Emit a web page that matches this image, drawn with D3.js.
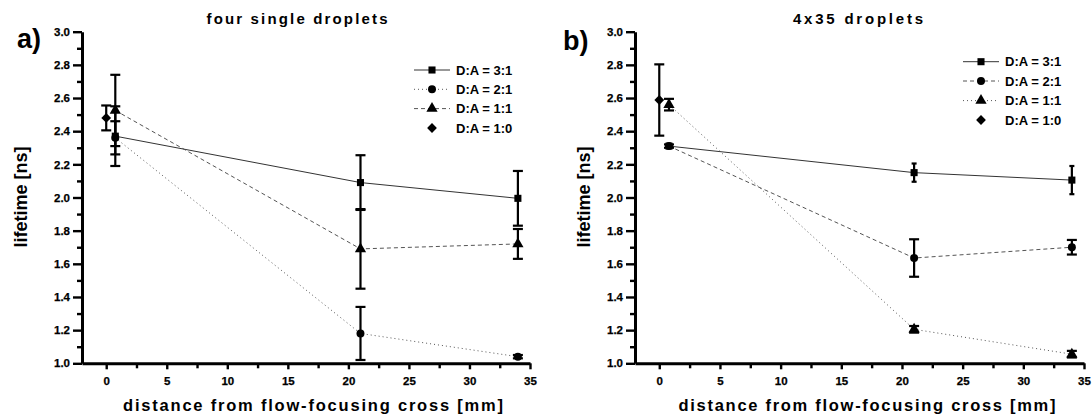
<!DOCTYPE html>
<html>
<head>
<meta charset="utf-8">
<script src="https://cdn.jsdelivr.net/npm/d3@7"></script>
<style>
  body { margin: 0; background: #fff; }
  svg { display: block; }
  .tick text { font-family: "Liberation Sans", Arial, sans-serif; font-weight: bold; font-size: 11.5px; fill: #000; stroke: #000; stroke-width: 0.25px; }
</style>
</head>
<body>
<svg id="chart" width="1092" height="416"></svg>
<script>
// ---------- data ----------
const xTickValues = [0, 5, 10, 15, 20, 25, 30, 35];
const yTickValues = [1.0, 1.2, 1.4, 1.6, 1.8, 2.0, 2.2, 2.4, 2.6, 2.8, 3.0];
const seriesNames = ["D:A = 3:1", "D:A = 2:1", "D:A = 1:1", "D:A = 1:0"];
const panelLetters = ["a)", "b)"];
const panelTitles = ["four single droplets", "4x35 droplets"];
const xLabel = "distance from flow-focusing cross [mm]";
const yLabel = "lifetime [ns]";

// panel a) four single droplets
const a31_x = [0.75, 21, 34];  const a31_y = [2.37, 2.09, 1.995]; const a31_e = [0.18, 0.165, 0.165];
const a21_x = [0.75, 21, 34];  const a21_y = [2.36, 1.18, 1.04];  const a21_e = [0.10, 0.16, 0.01];
const a11_x = [0.75, 21, 34];  const a11_y = [2.525, 1.69, 1.72]; const a11_e = [0.215, 0.24, 0.09];
const a10_x = [0];             const a10_y = [2.48];              const a10_e = [0.075];

// panel b) 4x35 droplets
const b31_x = [0.8, 21, 34];   const b31_y = [2.31, 2.15, 2.105]; const b31_e = [0.01, 0.055, 0.085];
const b21_x = [0.8, 21, 34];   const b21_y = [2.31, 1.635, 1.70]; const b21_e = [0.01, 0.113, 0.044];
const b11_x = [0.8, 21, 34];   const b11_y = [2.56, 1.205, 1.055];const b11_e = [0.035, 0.02, 0.02];
const b10_x = [0];             const b10_y = [2.588];             const b10_e = [0.215];

// ---------- drawing ----------
const svg = d3.select("#chart");
const FONT = "'Liberation Sans', Arial, sans-serif";

const zipS = (xs, ys, es) => xs.map((x, i) => ({x: x, y: ys[i], e: es[i]}));

const panels = [
  {
    x0: 82, x1: 530, letter: panelLetters[0], title: panelTitles[0],
    letterX: 17, letterY: 48, titleX: 297, titleW: 181, ylabX: 21, xlabX: 313, xlabW: 380,
    legX: 414, legY: [70, 89.3, 108.6, 128],
    series: [
      {name: seriesNames[0], data: zipS(a31_x, a31_y, a31_e), dash: null, sym: "square", cap: 10},
      {name: seriesNames[1], data: zipS(a21_x, a21_y, a21_e), dash: "1,3", sym: "circle", cap: 10},
      {name: seriesNames[2], data: zipS(a11_x, a11_y, a11_e), dash: "4,3", sym: "triangle", cap: 10},
      {name: seriesNames[3], data: zipS(a10_x, a10_y, a10_e), dash: "none", sym: "diamond", cap: 10}
    ]
  },
  {
    x0: 635, x1: 1084, letter: panelLetters[1], title: panelTitles[1],
    letterX: 563, letterY: 50, titleX: 858, titleW: 130, ylabX: 584, xlabX: 867, xlabW: 377,
    legX: 963, legY: [61.7, 81, 100.6, 120],
    series: [
      {name: seriesNames[0], data: zipS(b31_x, b31_y, b31_e), dash: null, sym: "square", cap: 5},
      {name: seriesNames[1], data: zipS(b21_x, b21_y, b21_e), dash: "4,3", sym: "circle", cap: 10},
      {name: seriesNames[2], data: zipS(b11_x, b11_y, b11_e), dash: "1,3", sym: "triangle", cap: 10},
      {name: seriesNames[3], data: zipS(b10_x, b10_y, b10_e), dash: "none", sym: "diamond", cap: 10}
    ]
  }
];

const symbolDefs = {
  square:   {type: d3.symbolSquare, size: 50, rot: 0},
  circle:   {type: d3.symbolCircle, size: 50, rot: 0},
  triangle: {type: d3.symbolTriangle, size: 55, rot: 0},
  diamond:  {type: d3.symbolSquare, size: 48, rot: 45}
};
const symPath = k => d3.symbol().type(symbolDefs[k].type).size(symbolDefs[k].size)();
const symRot = k => symbolDefs[k].rot ? ` rotate(${symbolDefs[k].rot})` : "";

panels.forEach(p => {
  const x = d3.scaleLinear().domain([-2, 35]).range([p.x0, p.x1]);
  const y = d3.scaleLinear().domain([1.0, 3.0]).range([363.3, 31.7]);
  const g = svg.append("g");

  // minor ticks
  const yMinor = d3.range(1.1, 3.0, 0.2);
  const xMinor = [2.5, 7.5, 12.5, 17.5, 22.5, 27.5, 32.5];
  g.append("g").attr("transform", `translate(${p.x0},0)`)
    .call(d3.axisLeft(y).tickValues(yMinor).tickSize(5).tickSizeOuter(0).tickFormat(""))
    .call(a => a.select(".domain").remove())
    .selectAll("line").attr("stroke-width", 2.4).attr("stroke", "#000");
  g.append("g").attr("transform", "translate(0,363.3)")
    .call(d3.axisBottom(x).tickValues(xMinor).tickSize(5).tickSizeOuter(0).tickFormat(""))
    .call(a => a.select(".domain").remove())
    .selectAll("line").attr("stroke-width", 2.4).attr("stroke", "#000");

  // major axes
  const yAx = g.append("g").attr("transform", `translate(${p.x0},0)`)
    .call(d3.axisLeft(y).tickValues(yTickValues).tickSize(9).tickSizeOuter(0).tickPadding(3).tickFormat(d3.format(".1f")));
  yAx.select(".domain").attr("stroke-width", 3).attr("stroke", "#000");
  yAx.selectAll(".tick line").attr("stroke-width", 2.4).attr("stroke", "#000");

  const xAx = g.append("g").attr("transform", "translate(0,363.3)")
    .call(d3.axisBottom(x).tickValues(xTickValues).tickSize(6).tickSizeOuter(0).tickPadding(8));
  xAx.select(".domain").attr("stroke-width", 3).attr("stroke", "#000");
  xAx.selectAll(".tick line").attr("stroke-width", 2.4).attr("stroke", "#000");

  // lines
  const line = d3.line().x(d => x(d.x)).y(d => y(d.y));
  p.series.forEach(s => {
    if (s.dash === "none") return;
    g.append("path").datum(s.data)
      .attr("d", line).attr("fill", "none")
      .attr("stroke", s.dash ? "#555" : "#333")
      .attr("stroke-width", 1)
      .attr("stroke-dasharray", s.dash);
  });

  // error bars
  p.series.forEach(s => {
    const eb = g.append("g").attr("stroke", "#000").attr("stroke-width", 2.2);
    s.data.forEach(d => {
      const cx = x(d.x), yt = y(d.y + d.e), yb = y(d.y - d.e);
      eb.append("line").attr("x1", cx).attr("x2", cx).attr("y1", yt).attr("y2", yb);
      eb.append("line").attr("x1", cx - s.cap / 2).attr("x2", cx + s.cap / 2).attr("y1", yt).attr("y2", yt);
      eb.append("line").attr("x1", cx - s.cap / 2).attr("x2", cx + s.cap / 2).attr("y1", yb).attr("y2", yb);
    });
  });

  // symbols
  p.series.forEach(s => {
    g.selectAll(null).data(s.data).enter().append("path")
      .attr("d", symPath(s.sym))
      .attr("transform", d => `translate(${x(d.x)},${y(d.y)})` + symRot(s.sym))
      .attr("fill", "#000");
  });

  // legend
  p.series.forEach((s, i) => {
    const ly = p.legY[i];
    if (s.dash !== "none") {
      g.append("line").attr("x1", p.legX).attr("x2", p.legX + 36)
        .attr("y1", ly).attr("y2", ly)
        .attr("stroke", s.dash ? "#555" : "#333").attr("stroke-width", 1)
        .attr("stroke-dasharray", s.dash);
    }
    g.append("path").attr("d", symPath(s.sym))
      .attr("transform", `translate(${p.legX + 18},${ly})` + symRot(s.sym)).attr("fill", "#000");
    g.append("text").attr("x", p.legX + 42).attr("y", ly + 4.5)
      .attr("font-family", FONT).attr("font-weight", "bold").attr("font-size", 13)
      .text(s.name);
  });

  // titles and labels
  g.append("text").attr("x", p.letterX).attr("y", p.letterY)
    .attr("font-family", FONT).attr("font-weight", "bold").attr("font-size", 27)
    .text(p.letter);
  g.append("text").attr("x", p.titleX).attr("y", 24).attr("text-anchor", "middle")
    .attr("font-family", FONT).attr("font-weight", "bold").attr("font-size", 15)
    .attr("textLength", p.titleW).attr("lengthAdjust", "spacing")
    .text(p.title);
  g.append("text").attr("x", p.xlabX).attr("y", 411).attr("text-anchor", "middle")
    .attr("font-family", FONT).attr("font-weight", "bold").attr("font-size", 16.5)
    .attr("textLength", p.xlabW).attr("lengthAdjust", "spacing")
    .text(xLabel);
  g.append("text").attr("transform", `translate(${p.ylabX + 6},197) rotate(-90)`)
    .attr("text-anchor", "middle")
    .attr("font-family", FONT).attr("font-weight", "bold").attr("font-size", 18)
    .text(yLabel);
});
</script>
</body>
</html>
